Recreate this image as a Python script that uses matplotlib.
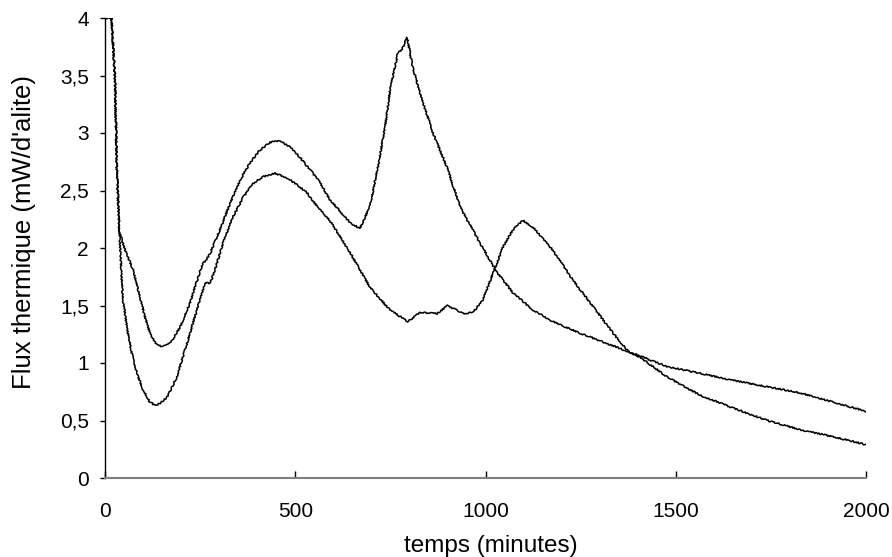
import matplotlib
matplotlib.use("Agg")
import matplotlib.pyplot as plt
from matplotlib.ticker import FuncFormatter

plt.rcParams['font.family'] = ['Liberation Sans', 'DejaVu Sans']

# Curve with the large peak near 800 min
t_a = [0, 17, 26, 31, 37, 39, 53, 74, 92, 105, 118, 131, 150, 166, 179, 197, 223, 250,
       258, 263, 276, 302, 329, 355, 381, 407, 434, 460, 486, 512, 539, 565, 591, 644,
       670, 696, 717, 736, 749, 770, 781, 794, 809, 833, 862, 899, 933, 986, 1030, 1072,
       1125, 1177, 1248, 1319, 1375, 1477, 1650, 1827, 2000]
v_a = [4.0, 4.0, 3.49, 2.71, 2.18, 2.13, 1.98, 1.81, 1.57, 1.40, 1.26, 1.18, 1.14, 1.16,
       1.21, 1.31, 1.52, 1.80, 1.88, 1.88, 1.95, 2.16, 2.39, 2.59, 2.74, 2.85, 2.92, 2.93,
       2.88, 2.79, 2.68, 2.57, 2.42, 2.22, 2.17, 2.36, 2.70, 3.05, 3.37, 3.70, 3.73, 3.83,
       3.57, 3.29, 3.0, 2.70, 2.36, 2.04, 1.79, 1.61, 1.46, 1.36, 1.26, 1.17, 1.10, 0.97,
       0.85, 0.74, 0.58]

# Curve with the second peak near 1100 min
t_b = [0, 17, 26, 31, 37, 47, 60, 74, 87, 100, 116, 131, 145, 163, 189, 218, 244, 263,
       276, 289, 310, 336, 363, 389, 415, 447, 478, 505, 531, 560, 591, 644, 696, 749,
       796, 828, 873, 901, 941, 967, 993, 1020, 1046, 1072, 1099, 1125, 1177, 1230, 1283,
       1335, 1375, 1406, 1477, 1564, 1650, 1740, 1827, 1913, 2000]
v_b = [4.0, 4.0, 3.49, 2.71, 2.18, 1.55, 1.26, 1.03, 0.88, 0.77, 0.67, 0.63, 0.65, 0.70,
       0.88, 1.20, 1.49, 1.70, 1.69, 1.81, 2.04, 2.27, 2.44, 2.56, 2.62, 2.65, 2.61, 2.55,
       2.48, 2.35, 2.24, 1.96, 1.66, 1.46, 1.36, 1.44, 1.43, 1.50, 1.43, 1.44, 1.55, 1.78,
       2.01, 2.16, 2.24, 2.18, 1.98, 1.72, 1.49, 1.26, 1.10, 1.05, 0.88, 0.72, 0.61, 0.50,
       0.42, 0.36, 0.29]

x_ticks = [0, 500, 1000, 1500, 2000]
y_ticks = [0, 0.5, 1, 1.5, 2, 2.5, 3, 3.5, 4]

fig = plt.figure(figsize=(8.92, 5.57), dpi=100)
ax = fig.add_axes([105/892, 1-478/557, (866-105)/892, (478-18)/557])

for t, v in [(t_a, v_a), (t_b, v_b)]:
    line, = ax.plot(t, v, color='black', lw=1.1, solid_joinstyle='round')
    line.set_sketch_params(scale=0.7, length=2.0, randomness=4)

ax.set_xlim(0, 2000)
ax.set_ylim(0, 4)
ax.set_xticks(x_ticks)
ax.set_yticks(y_ticks)
ax.yaxis.set_major_formatter(FuncFormatter(lambda v, p: (f"{v:g}").replace('.', ',')))

for s in ['top', 'right']:
    ax.spines[s].set_visible(False)
ax.spines['left'].set_color('black')
ax.spines['left'].set_linewidth(1.0)
ax.spines['bottom'].set_color('#808080')
ax.spines['bottom'].set_linewidth(1.5)

ax.tick_params(axis='x', direction='in', length=5, width=1, color='black',
               labelsize=15, pad=17)
ax.tick_params(axis='y', direction='out', length=3.6, width=1, color='black',
               labelsize=15, pad=8)

ax.set_xlabel('temps (minutes)', fontsize=17.5, va='center')
ax.xaxis.set_label_coords((491-105)/761, (478-546)/460)
ax.set_ylabel("Flux thermique (mW/d'alite)", fontsize=18.5, va='center')
ax.yaxis.set_label_coords((24-105)/761, (478-232)/460)

fig.savefig('out.png', dpi=100)
